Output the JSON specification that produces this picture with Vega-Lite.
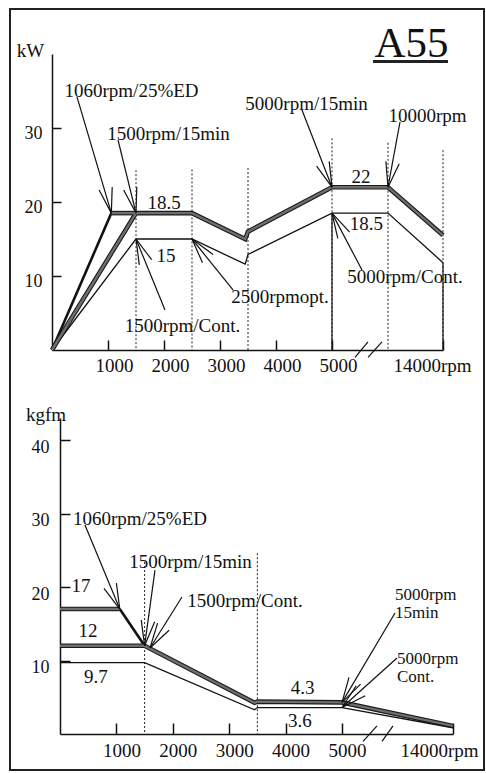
{
  "$schema": "https://vega.github.io/schema/vega-lite/v6.json",
  "autosize": "none",
  "width": 474,
  "height": 761,
  "padding": {"left": 10, "top": 9, "right": 2, "bottom": 3},
  "background": "white",
  "config": {
    "font": "Liberation Serif",
    "view": {"stroke": "#222", "strokeWidth": 2},
    "axis": {"grid": false, "domainColor": "#111", "domainWidth": 1.5, "tickColor": "#111", "tickWidth": 1.5, "labelColor": "#111", "labelFont": "Liberation Serif", "labelFlush": false, "labelOverlap": false, "labelBound": false},
    "text": {"font": "Liberation Serif", "fontSize": 19, "color": "#111", "baseline": "alphabetic", "align": "center"}
  },
  "datasets": {
    "kwLines": [
      {"s": "EDr", "i": 0, "rpm": 0, "v": 0}, {"s": "EDr", "i": 1, "rpm": 1060, "v": 18.5},
      {"s": "EDf", "i": 0, "rpm": 1060, "v": 18.5}, {"s": "EDf", "i": 1, "rpm": 1500, "v": 18.5},
      {"s": "P15", "i": 0, "rpm": 0, "v": 0}, {"s": "P15", "i": 1, "rpm": 1500, "v": 18.5}, {"s": "P15", "i": 2, "rpm": 2500, "v": 18.5}, {"s": "P15", "i": 3, "rpm": 3450, "v": 15}, {"s": "P15", "i": 4, "rpm": 3500, "v": 16}, {"s": "P15", "i": 5, "rpm": 5000, "v": 22}, {"s": "P15", "i": 6, "rpm": 10000, "v": 22}, {"s": "P15", "i": 7, "rpm": 14000, "v": 15.5},
      {"s": "Cont", "i": 0, "rpm": 0, "v": 0}, {"s": "Cont", "i": 1, "rpm": 1500, "v": 15}, {"s": "Cont", "i": 2, "rpm": 2500, "v": 15}, {"s": "Cont", "i": 3, "rpm": 3450, "v": 11.6}, {"s": "Cont", "i": 4, "rpm": 3500, "v": 12.9}, {"s": "Cont", "i": 5, "rpm": 5000, "v": 18.5}, {"s": "Cont", "i": 6, "rpm": 10000, "v": 18.5}, {"s": "Cont", "i": 7, "rpm": 14000, "v": 11.8}
    ],
    "kwDashed": [
      {"rpm": 1500, "v": 24.3, "v2": 0}, {"rpm": 2500, "v": 24.4, "v2": 0}, {"rpm": 3500, "v": 24.6, "v2": 0},
      {"rpm": 5000, "v": 28.6, "v2": 0}, {"rpm": 10000, "v": 28, "v2": 0}, {"rpm": 14000, "v": 27, "v2": 0}
    ],
    "kwSolid": [
      {"rpm": 5000, "v": 18.5, "v2": 0}, {"rpm": 14000, "v": 11.8, "v2": 0}
    ],
    "kwSegs": [
      {"rpm": 446, "v": 34.2, "rpm2": 1060, "v2": 18.5}, {"rpm": 1075, "v": 22.03, "rpm2": 1060, "v2": 18.5}, {"rpm": 841, "v": 21.61, "rpm2": 1060, "v2": 18.5},
      {"rpm": 1179, "v": 28.38, "rpm2": 1500, "v2": 18.5}, {"rpm": 1514, "v": 22.03, "rpm2": 1500, "v2": 18.5}, {"rpm": 1280, "v": 21.62, "rpm2": 1500, "v2": 18.5},
      {"rpm": 4464, "v": 32.43, "rpm2": 5000, "v2": 22}, {"rpm": 4950, "v": 25.49, "rpm2": 5000, "v2": 22}, {"rpm": 4725, "v": 24.84, "rpm2": 5000, "v2": 22},
      {"rpm": 10873, "v": 30.81, "rpm2": 10000, "v2": 22}, {"rpm": 10815, "v": 25.18, "rpm2": 10000, "v2": 22}, {"rpm": 9813, "v": 25.5, "rpm2": 10000, "v2": 22},
      {"rpm": 2018, "v": 5.41, "rpm2": 1500, "v2": 15}, {"rpm": 1559, "v": 11.51, "rpm2": 1500, "v2": 15}, {"rpm": 1780, "v": 12.2, "rpm2": 1500, "v2": 15},
      {"rpm": 3232, "v": 8.11, "rpm2": 2500, "v2": 15}, {"rpm": 2688, "v": 11.78, "rpm2": 2500, "v2": 15}, {"rpm": 2875, "v": 12.92, "rpm2": 2500, "v2": 15},
      {"rpm": 7679, "v": 10.81, "rpm2": 5000, "v2": 18.5}, {"rpm": 5518, "v": 15.07, "rpm2": 5000, "v2": 18.5}, {"rpm": 6580, "v": 15.92, "rpm2": 5000, "v2": 18.5},
      {"rpm": 7054, "v": -1.0, "rpm2": 8214, "v2": 1.1}, {"rpm": 8214, "v": -1.0, "rpm2": 9464, "v2": 1.1}
    ],
    "kwUnderline": [{"rpm": 8661, "v": 38.99, "rpm2": 14364, "v2": 38.99}],
    "kwText": [
      {"t": "1060rpm/25%ED", "rpm": 1420, "v": 34.19},
      {"t": "1500rpm/15min", "rpm": 2080, "v": 28.38},
      {"t": "5000rpm/15min", "rpm": 4545, "v": 32.43},
      {"t": "10000rpm", "rpm": 12873, "v": 30.81},
      {"t": "18.5", "rpm": 2000, "v": 19.0},
      {"t": "15", "rpm": 2036, "v": 11.93},
      {"t": "2500rpmopt.", "rpm": 4071, "v": 6.35},
      {"t": "5000rpm/Cont.", "rpm": 11236, "v": 9.05},
      {"t": "18.5", "rpm": 8080, "v": 16.2},
      {"t": "22", "rpm": 7589, "v": 22.6},
      {"t": "1500rpm/Cont.", "rpm": 2330, "v": 2.43},
      {"t": "kW", "rpm": -384, "v": 39.6}
    ],
    "kwTitle": [{"t": "A55", "rpm": 11709, "v": 39.59}],
    "tqLines": [
      {"s": "EDf", "i": 0, "rpm": 0, "v": 17}, {"s": "EDf", "i": 1, "rpm": 1060, "v": 17},
      {"s": "EDs", "i": 0, "rpm": 1060, "v": 17}, {"s": "EDs", "i": 1, "rpm": 1500, "v": 12},
      {"s": "P15", "i": 0, "rpm": 0, "v": 12}, {"s": "P15", "i": 1, "rpm": 1500, "v": 12}, {"s": "P15", "i": 2, "rpm": 3450, "v": 4.25}, {"s": "P15", "i": 3, "rpm": 3500, "v": 4.4}, {"s": "P15", "i": 4, "rpm": 5000, "v": 4.3}, {"s": "P15", "i": 5, "rpm": 14000, "v": 1.1},
      {"s": "Cont", "i": 0, "rpm": 0, "v": 9.7}, {"s": "Cont", "i": 1, "rpm": 1500, "v": 9.7}, {"s": "Cont", "i": 2, "rpm": 3450, "v": 3.3}, {"s": "Cont", "i": 3, "rpm": 3500, "v": 3.6}, {"s": "Cont", "i": 4, "rpm": 5000, "v": 3.6}, {"s": "Cont", "i": 5, "rpm": 14000, "v": 0.85}
    ],
    "tqDashed": [
      {"rpm": 1500, "v": 23.4, "v2": 0}, {"rpm": 3500, "v": 24.6, "v2": 0}
    ],
    "tqSegs": [
      {"rpm": 443, "v": 28.44, "rpm2": 1060, "v2": 17}, {"rpm": 1000, "v": 20.52, "rpm2": 1060, "v2": 17}, {"rpm": 780, "v": 19.81, "rpm2": 1060, "v2": 17},
      {"rpm": 1684, "v": 22.31, "rpm2": 1500, "v2": 12}, {"rpm": 1679, "v": 15.27, "rpm2": 1500, "v2": 12}, {"rpm": 1441, "v": 15.51, "rpm2": 1500, "v2": 12},
      {"rpm": 2163, "v": 18.64, "rpm2": 1596, "v2": 11.7}, {"rpm": 1934, "v": 14.11, "rpm2": 1596, "v2": 11.7}, {"rpm": 1730, "v": 15.09, "rpm2": 1596, "v2": 11.7},
      {"rpm": 9732, "v": 16.46, "rpm2": 5000, "v2": 4.3}, {"rpm": 6661, "v": 6.78, "rpm2": 5000, "v2": 4.3}, {"rpm": 5625, "v": 7.7, "rpm2": 5000, "v2": 4.3},
      {"rpm": 9911, "v": 10.34, "rpm2": 5000, "v2": 3.6}, {"rpm": 7072, "v": 5.21, "rpm2": 5000, "v2": 3.6}, {"rpm": 6268, "v": 6.57, "rpm2": 5000, "v2": 3.6},
      {"rpm": 6875, "v": -1.0, "rpm2": 8125, "v2": 1.1}, {"rpm": 8571, "v": -1.0, "rpm2": 9554, "v2": 1.1}
    ],
    "tqText": [
      {"t": "1060rpm/25%ED", "rpm": 1418, "v": 28.44},
      {"t": "1500rpm/15min", "rpm": 2314, "v": 22.59},
      {"t": "1500rpm/Cont.", "rpm": 3280, "v": 17.28},
      {"t": "17", "rpm": 372, "v": 19.32},
      {"t": "12", "rpm": 496, "v": 13.2},
      {"t": "9.7", "rpm": 638, "v": 6.94},
      {"t": "4.3", "rpm": 4300, "v": 5.4},
      {"t": "3.6", "rpm": 4255, "v": 0.95},
      {"t": "kgfm", "rpm": -248, "v": 42.6}
    ],
    "tqTextLeft": [
      {"t": "5000rpm\n15min", "rpm": 9732, "v": 18.23},
      {"t": "5000rpm\nCont.", "rpm": 9911, "v": 9.52}
    ]
  },
  "layer": [
    {
      "layer": [
        {
          "data": {"name": "kwDashed"},
          "mark": {"type": "rule", "color": "#222", "strokeWidth": 1, "strokeDash": [2, 2]},
          "encoding": {
            "x": {"field": "rpm", "type": "quantitative",
              "scale": {"domain": [0, 5000, 10000, 14000], "range": [42, 322, 378, 433], "nice": false, "zero": false},
              "axis": {"orient": "bottom", "offset": -420, "values": [1000, 2000, 3000, 4000, 5000, 14000], "title": null,
                "labelExpr": "datum.value == 14000 ? '14000rpm' : '' + datum.value",
                "tickSize": -10, "labelPadding": 16, "labelFontSize": 19,
                "labelOffset": {"condition": {"test": "datum.value == 14000", "value": -11}, "value": 6}}},
            "y": {"field": "v", "type": "quantitative",
              "scale": {"domain": [0, 40], "range": [341, 45], "nice": false, "zero": false},
              "axis": {"orient": "left", "offset": -42, "values": [10, 20, 30], "title": null, "tickSize": -9, "labelPadding": 19, "labelOffset": 5, "labelFontSize": 18, "labelBaseline": "middle"}},
            "y2": {"field": "v2"}
          }
        },
        {
          "data": {"name": "kwSolid"},
          "mark": {"type": "rule", "color": "#111", "strokeWidth": 1.2},
          "encoding": {
            "x": {"field": "rpm", "type": "quantitative"},
            "y": {"field": "v", "type": "quantitative"},
            "y2": {"field": "v2"}
          }
        },
        {
          "data": {"name": "kwLines"},
          "transform": [{"filter": "datum.s == 'Cont'"}],
          "mark": {"type": "line", "color": "#111", "strokeWidth": 1.3},
          "encoding": {
            "x": {"field": "rpm", "type": "quantitative"},
            "y": {"field": "v", "type": "quantitative"},
            "order": {"field": "i"}
          }
        },
        {
          "data": {"name": "kwLines"},
          "transform": [{"filter": "datum.s == 'EDr'"}],
          "mark": {"type": "line", "color": "#111", "strokeWidth": 2.6},
          "encoding": {
            "x": {"field": "rpm", "type": "quantitative"},
            "y": {"field": "v", "type": "quantitative"},
            "order": {"field": "i"}
          }
        },
        {
          "data": {"name": "kwLines"},
          "transform": [{"filter": "datum.s == 'P15' || datum.s == 'EDf'"}],
          "mark": {"type": "line", "color": "#1a1a1a", "strokeWidth": 4.6},
          "encoding": {
            "x": {"field": "rpm", "type": "quantitative"},
            "y": {"field": "v", "type": "quantitative"},
            "detail": {"field": "s"},
            "order": {"field": "i"}
          }
        },
        {
          "data": {"name": "kwLines"},
          "transform": [{"filter": "datum.s == 'P15' || datum.s == 'EDf'"}],
          "mark": {"type": "line", "color": "#6e6e6e", "strokeWidth": 2.4},
          "encoding": {
            "x": {"field": "rpm", "type": "quantitative"},
            "y": {"field": "v", "type": "quantitative"},
            "detail": {"field": "s"},
            "order": {"field": "i"}
          }
        },
        {
          "data": {"name": "kwSegs"},
          "mark": {"type": "rule", "color": "#111", "strokeWidth": 1.2},
          "encoding": {
            "x": {"field": "rpm", "type": "quantitative"},
            "y": {"field": "v", "type": "quantitative"},
            "x2": {"field": "rpm2"},
            "y2": {"field": "v2"}
          }
        },
        {
          "data": {"name": "kwUnderline"},
          "mark": {"type": "rule", "color": "#222", "strokeWidth": 3},
          "encoding": {
            "x": {"field": "rpm", "type": "quantitative"},
            "y": {"field": "v", "type": "quantitative"},
            "x2": {"field": "rpm2"},
            "y2": {"field": "v2"}
          }
        },
        {
          "data": {"name": "kwText"},
          "mark": {"type": "text"},
          "encoding": {
            "x": {"field": "rpm", "type": "quantitative"},
            "y": {"field": "v", "type": "quantitative"},
            "text": {"field": "t"}
          }
        },
        {
          "data": {"name": "kwTitle"},
          "mark": {"type": "text", "fontSize": 43},
          "encoding": {
            "x": {"field": "rpm", "type": "quantitative"},
            "y": {"field": "v", "type": "quantitative"},
            "text": {"field": "t"}
          }
        }
      ]
    },
    {
      "layer": [
        {
          "data": {"name": "tqDashed"},
          "mark": {"type": "rule", "color": "#222", "strokeWidth": 1, "strokeDash": [2, 2]},
          "encoding": {
            "x": {"field": "rpm", "type": "quantitative",
              "scale": {"domain": [0, 5000, 10000, 14000], "range": [50, 332, 388, 443], "nice": false, "zero": false},
              "axis": {"orient": "bottom", "offset": -36, "values": [1000, 2000, 3000, 4000, 5000, 14000], "title": null,
                "labelExpr": "datum.value == 14000 ? '14000rpm' : '' + datum.value",
                "tickSize": -11, "labelPadding": 18, "labelFontSize": 19,
                "labelOffset": {"condition": {"test": "datum.value == 14000", "value": -14}, "value": 5}}},
            "y": {"field": "v", "type": "quantitative",
              "scale": {"domain": [0, 43], "range": [725, 409], "nice": false, "zero": false},
              "axis": {"orient": "left", "offset": -50, "values": [10, 20, 30, 40], "title": null, "tickSize": -10, "labelPadding": 21, "labelOffset": 7, "labelFontSize": 18, "labelBaseline": "middle"}},
            "y2": {"field": "v2"}
          }
        },
        {
          "data": {"name": "tqLines"},
          "transform": [{"filter": "datum.s == 'Cont'"}],
          "mark": {"type": "line", "color": "#111", "strokeWidth": 1.3},
          "encoding": {
            "x": {"field": "rpm", "type": "quantitative"},
            "y": {"field": "v", "type": "quantitative"},
            "order": {"field": "i"}
          }
        },
        {
          "data": {"name": "tqLines"},
          "transform": [{"filter": "datum.s == 'EDs'"}],
          "mark": {"type": "line", "color": "#111", "strokeWidth": 2.6},
          "encoding": {
            "x": {"field": "rpm", "type": "quantitative"},
            "y": {"field": "v", "type": "quantitative"},
            "order": {"field": "i"}
          }
        },
        {
          "data": {"name": "tqLines"},
          "transform": [{"filter": "datum.s == 'P15' || datum.s == 'EDf'"}],
          "mark": {"type": "line", "color": "#1a1a1a", "strokeWidth": 4.6},
          "encoding": {
            "x": {"field": "rpm", "type": "quantitative"},
            "y": {"field": "v", "type": "quantitative"},
            "detail": {"field": "s"},
            "order": {"field": "i"}
          }
        },
        {
          "data": {"name": "tqLines"},
          "transform": [{"filter": "datum.s == 'P15' || datum.s == 'EDf'"}],
          "mark": {"type": "line", "color": "#6e6e6e", "strokeWidth": 2.4},
          "encoding": {
            "x": {"field": "rpm", "type": "quantitative"},
            "y": {"field": "v", "type": "quantitative"},
            "detail": {"field": "s"},
            "order": {"field": "i"}
          }
        },
        {
          "data": {"name": "tqSegs"},
          "mark": {"type": "rule", "color": "#111", "strokeWidth": 1.2},
          "encoding": {
            "x": {"field": "rpm", "type": "quantitative"},
            "y": {"field": "v", "type": "quantitative"},
            "x2": {"field": "rpm2"},
            "y2": {"field": "v2"}
          }
        },
        {
          "data": {"name": "tqText"},
          "mark": {"type": "text"},
          "encoding": {
            "x": {"field": "rpm", "type": "quantitative"},
            "y": {"field": "v", "type": "quantitative"},
            "text": {"field": "t"}
          }
        },
        {
          "data": {"name": "tqTextLeft"},
          "mark": {"type": "text", "align": "left", "fontSize": 17, "lineBreak": "\n", "lineHeight": 18},
          "encoding": {
            "x": {"field": "rpm", "type": "quantitative"},
            "y": {"field": "v", "type": "quantitative"},
            "text": {"field": "t"}
          }
        }
      ]
    }
  ],
  "resolve": {"scale": {"x": "independent", "y": "independent"}}
}
